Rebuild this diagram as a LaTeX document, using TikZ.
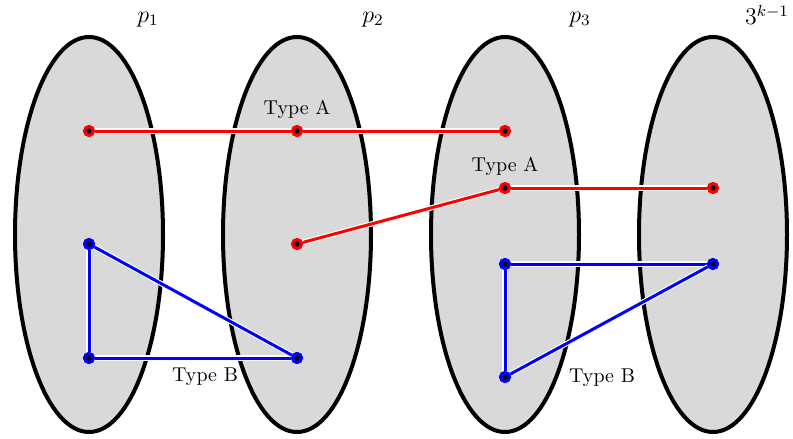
\documentclass[tikz,border=0pt]{standalone}
\usepackage{amsmath,amssymb}
\usetikzlibrary{shapes.geometric,positioning}
\tikzset{
  part/.style={ellipse, draw, line width=2pt, fill=gray!30, minimum width=74pt, minimum height=197.5pt, inner sep=0pt},
  dot/.style={circle, fill=black, line width=1.5pt, minimum size=4.4pt, inner sep=0pt},
  rdot/.style={dot, draw=red},
  bdot/.style={dot, draw=blue},
  link/.style={line width=1.5pt, preaction={draw=white, line width=2.6pt}},
  lbl/.style={font=\normalsize, inner sep=0pt},
  setlbl/.style={font=\large, anchor=base, inner sep=0pt}
}

\begin{document}
\begin{tikzpicture}[x=0.5pt, y=-0.5pt]
\useasboundingbox (0,0) rectangle (793,439);
% the four parts
\node[part] (P1) at (89,234.5) {};
\node[part] (P2) at (297,234.5) {};
\node[part] (P3) at (505,234.5) {};
\node[part] (P4) at (713,234.5) {};

\node[setlbl] (l1) at (148,22) {$p_1$};
\node[setlbl] (l2) at (373,22) {$p_2$};
\node[setlbl] (l3) at (580,22) {$p_3$};
\node[setlbl] (l4) at (767,25) {$3^{k-1}$};

% points
\node[rdot] (r1) at (89,131) {};
\node[rdot] (r2) at (297,131) {};
\node[rdot] (r3) at (505,131) {};
\node[rdot] (r4) at (297,244) {};
\node[rdot] (r5) at (505,188) {};
\node[rdot] (r6) at (713,188) {};

\node[bdot] (b1) at (89,244) {};
\node[bdot] (b2) at (89,358) {};
\node[bdot] (b3) at (297,358) {};
\node[bdot] (b4) at (505,264) {};
\node[bdot] (b5) at (713,264) {};
\node[bdot] (b6) at (505,377) {};

% type A (red)
\draw[link, red] (r1) -- (r2);
\draw[link, red] (r2) -- (r3);
\draw[link, red] (r4) -- (r5);
\draw[link, red] (r5) -- (r6);
% type B (blue)
\draw[link, blue] (b1) -- (b2);
\draw[link, blue] (b2) -- (b3);
\draw[link, blue] (b3) -- (b1);
\draw[link, blue] (b4) -- (b5);
\draw[link, blue] (b4) -- (b6);
\draw[link, blue] (b6) -- (b5);

% points again, on top of the halos
\foreach \n in {r1,r2,r3,r4,r5,r6}
  \node[rdot] at (\n) {};
\foreach \n in {b1,b2,b3,b4,b5,b6}
  \node[bdot] at (\n) {};

\node[lbl, above=3.3pt of r2] (ta1) {Type A};
\node[lbl, above=3.3pt of r5] (ta2) {Type A};
\node[lbl, anchor=base] (tb1) at (205,381) {Type B};
\node[lbl, anchor=base] (tb2) at (602,382) {Type B};
\end{tikzpicture}
\end{document}
